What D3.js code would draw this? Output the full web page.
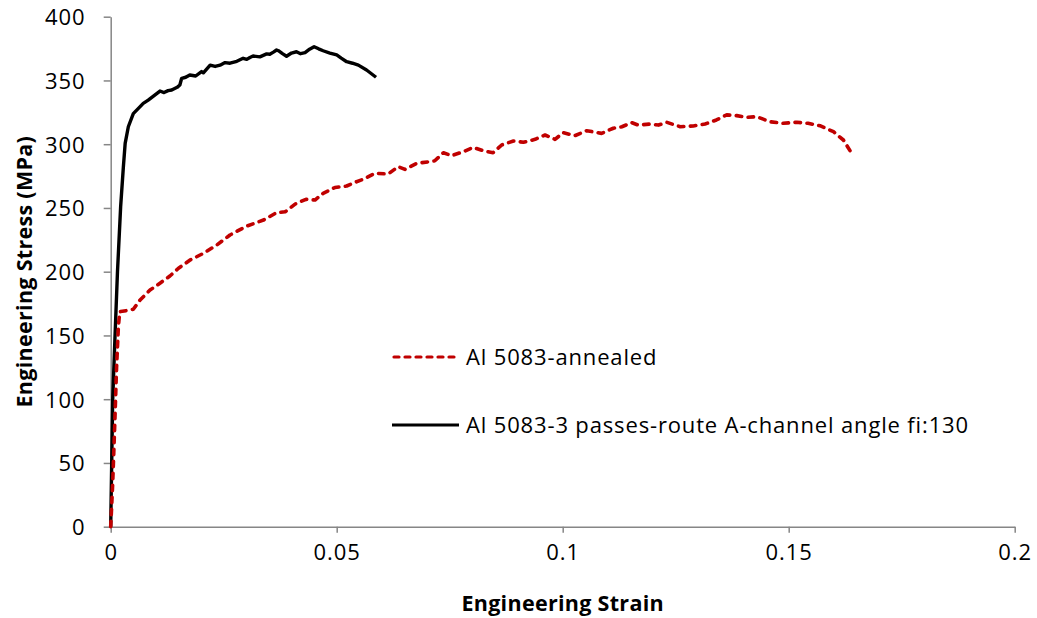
<!DOCTYPE html>
<html>
<head>
<meta charset="utf-8">
<script src="https://cdn.jsdelivr.net/npm/d3@7"></script>
<style>
  html, body { margin: 0; padding: 0; background: #fff; }
  svg text { font-family: "Open Sans", "Liberation Sans", sans-serif; fill: #000; }
</style>
</head>
<body>
<svg id="chart" width="1037" height="618"></svg>
<script>
// ---- data (strain, stress MPa) ----
const annealedStrain = [0, 0.0002, 0.00044, 0.0007, 0.00095, 0.0013, 0.0017, 0.002, 0.0035, 0.005, 0.0065, 0.0087, 0.0109, 0.0131, 0.015, 0.0175, 0.0205, 0.0235, 0.0264, 0.0301, 0.0338, 0.0367, 0.0386, 0.0408, 0.0432, 0.0452, 0.047, 0.0496, 0.0522, 0.0544, 0.0559, 0.0585, 0.0614, 0.0636, 0.0651, 0.0677, 0.0706, 0.0717, 0.0736, 0.0754, 0.078, 0.0802, 0.0824, 0.0846, 0.0865, 0.0891, 0.0913, 0.0939, 0.0961, 0.0983, 0.1001, 0.1027, 0.1053, 0.1086, 0.1112, 0.1131, 0.1153, 0.1167, 0.1193, 0.1212, 0.123, 0.126, 0.1289, 0.1315, 0.134, 0.1363, 0.1385, 0.1407, 0.1429, 0.1459, 0.1488, 0.1518, 0.1543, 0.1569, 0.1599, 0.1621, 0.1636];
const annealedStress = [0, 15, 34, 60, 86, 125, 157, 168.6, 169.5, 170.5, 177.8, 185.6, 191, 196.6, 202.7, 209, 214.4, 221, 228.8, 235.8, 240.5, 246.3, 247, 253, 256.8, 256.2, 261.5, 266, 267.2, 270.6, 272.5, 277.2, 276.6, 282.4, 280.3, 285, 286.3, 287, 293.3, 291, 294.1, 297.5, 294.9, 293.3, 299.4, 302.5, 301.5, 303.8, 307.2, 303.8, 309, 306.7, 310.6, 308.5, 312.5, 313.7, 316.9, 315, 315.8, 315, 317.2, 313.7, 314.3, 315.8, 319, 323, 322.4, 321, 321.6, 317.6, 316.4, 317.2, 316.4, 314.5, 309.8, 303.3, 294.7];

const ecapStrain = [0, 0.00044, 0.00095, 0.0015, 0.0022, 0.0028, 0.0032, 0.0039, 0.005, 0.0072, 0.0083, 0.0109, 0.0118, 0.0127, 0.0135, 0.0147, 0.0153, 0.0157, 0.0166, 0.0175, 0.0188, 0.0201, 0.0205, 0.022, 0.0231, 0.0242, 0.0253, 0.0264, 0.0279, 0.0293, 0.0301, 0.0308, 0.0315, 0.0330, 0.0345, 0.0352, 0.036, 0.0367, 0.0371, 0.038, 0.0389, 0.04, 0.0411, 0.042, 0.043, 0.044, 0.045, 0.046, 0.047, 0.0485, 0.05, 0.051, 0.0522, 0.0535, 0.0548, 0.0566, 0.0587];
const ecapStress = [0, 99.4, 149, 200, 251, 282, 300.7, 313.7, 324, 332, 334.6, 341.7, 340.5, 342, 342.5, 344.6, 346.4, 351.7, 352.5, 354.3, 353.5, 357, 356, 362, 361, 362, 364, 363.5, 365, 367.4, 366.5, 368, 369.2, 368.5, 370.8, 370.5, 372.2, 373.9, 373.3, 371, 369, 371.5, 372.5, 371, 371.8, 374.5, 376.5, 374.8, 373.3, 371.5, 370, 367.5, 364.7, 363.5, 362, 358.2, 352.5];

const seriesNames = ["Al 5083-annealed", "Al 5083-3 passes-route A-channel angle fi:130"];
const xTicks = [0, 0.05, 0.1, 0.15, 0.2];
const yTicks = [0, 50, 100, 150, 200, 250, 300, 350, 400];
const xTitle = "Engineering Strain";
const yTitle = "Engineering Stress (MPa)";

// ---- layout ----
const svg = d3.select("#chart");
const x = d3.scaleLinear().domain([0, 0.2]).range([110.7, 1014.7]);
const y = d3.scaleLinear().domain([0, 400]).range([526.7, 16.7]);
const axisColor = "#868686";
const labelFont = 22;

const xAxis = svg.append("g").attr("transform", `translate(0,${y(0)})`)
  .call(d3.axisBottom(x).tickValues(xTicks).tickSize(6).tickSizeOuter(0).tickPadding(11)
        .tickFormat(d => d3.format("")(+d.toFixed(2))));
const yAxis = svg.append("g").attr("transform", `translate(${x(0)},0)`)
  .call(d3.axisLeft(y).tickValues(yTicks).tickSize(7).tickSizeOuter(0).tickPadding(18));
[xAxis, yAxis].forEach(g => {
  g.select(".domain").attr("stroke", axisColor).attr("stroke-width", 1.5);
  g.selectAll(".tick line").attr("stroke", axisColor).attr("stroke-width", 1.5);
  g.selectAll(".tick text").attr("font-size", labelFont).attr("fill", "#000")
    .attr("letter-spacing", 1)
    .style("font-family", '"Open Sans", sans-serif');
});
yAxis.selectAll(".tick text").attr("dy", "0.36em");
xAxis.selectAll(".tick text").attr("dy", "0.75em");

// ---- lines ----
const line = d3.line().x(d => x(d[0])).y(d => y(d[1]));
const annealed = d3.zip(annealedStrain, annealedStress);
const ecap = d3.zip(ecapStrain, ecapStress);

svg.append("path").datum(ecap).attr("d", line)
  .attr("fill", "none").attr("stroke", "#000").attr("stroke-width", 3.4)
  .attr("stroke-linejoin", "round");
svg.append("path").datum(annealed).attr("d", line)
  .attr("fill", "none").attr("stroke", "#C00000").attr("stroke-width", 3.6)
  .attr("stroke-dasharray", "5.5,6.5").attr("stroke-linecap", "round")
  .attr("stroke-linejoin", "round");

// ---- legend ----
const leg = svg.append("g");
leg.append("line").attr("x1", 394).attr("x2", 457).attr("y1", 357).attr("y2", 357)
  .attr("stroke", "#C00000").attr("stroke-width", 3.2).attr("stroke-dasharray", "5,6")
  .attr("stroke-linecap", "round");
leg.append("line").attr("x1", 392).attr("x2", 459).attr("y1", 425).attr("y2", 425)
  .attr("stroke", "#000").attr("stroke-width", 3.2);
leg.append("text").attr("x", 466).attr("y", 357).attr("dy", "0.36em").attr("font-size", labelFont)
  .attr("letter-spacing", 0.85).text(seriesNames[0]);
leg.append("text").attr("x", 466).attr("y", 425).attr("dy", "0.36em").attr("font-size", labelFont)
  .attr("letter-spacing", 0.85).text(seriesNames[1]);

// ---- titles ----
svg.append("text").attr("x", (x(0) + x(0.2)) / 2).attr("y", 611).attr("text-anchor", "middle")
  .attr("font-size", 21.5).attr("font-weight", "bold").attr("letter-spacing", 0.3).text(xTitle);
svg.append("text").attr("transform", `translate(32,${(y(0) + y(400)) / 2}) rotate(-90)`)
  .attr("text-anchor", "middle").attr("font-size", 21.5).attr("font-weight", "bold")
  .attr("letter-spacing", 0.3).text(yTitle);
</script>
</body>
</html>
